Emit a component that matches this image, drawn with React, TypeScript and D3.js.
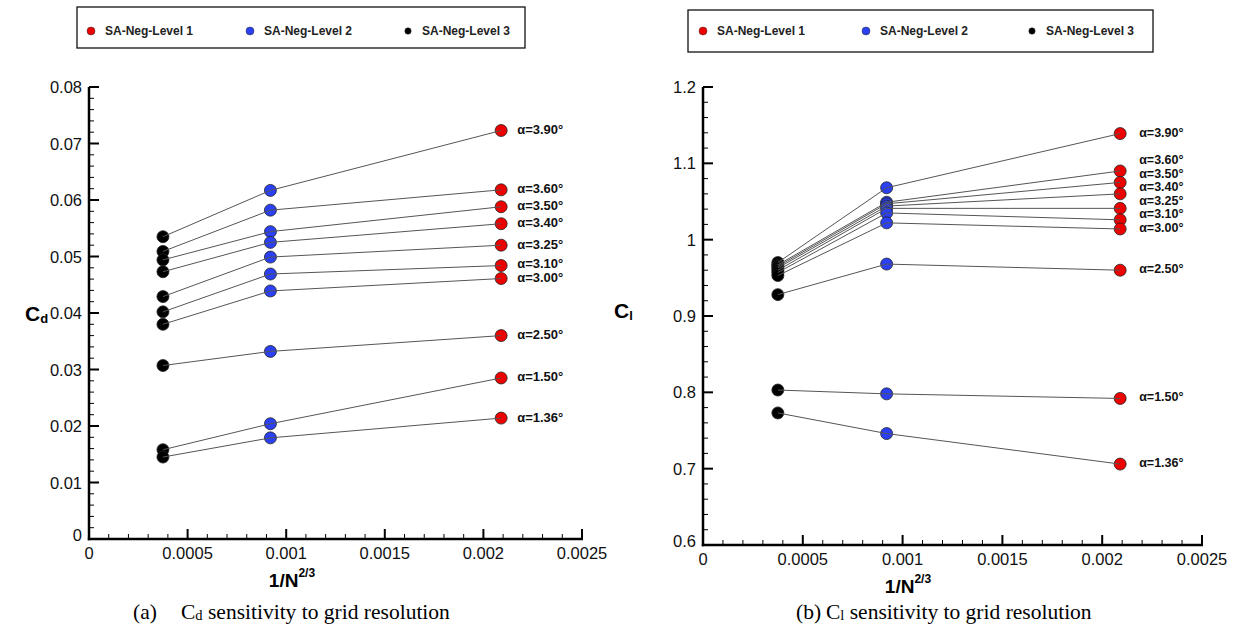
import React from 'react';
import * as d3 from 'd3';

// angle of attack for every curve, top to bottom
const alphaLabels = ['α=3.90°', 'α=3.60°', 'α=3.50°', 'α=3.40°', 'α=3.25°', 'α=3.10°', 'α=3.00°', 'α=2.50°', 'α=1.50°', 'α=1.36°'];

// 1/N^(2/3) of the three grids
const level1X = 0.00209;
const level2X = 0.00092;
const level3X = 0.000375;

const cdLevel1 = [0.0723, 0.0618, 0.0588, 0.0558, 0.052, 0.0484, 0.0461, 0.036, 0.0285, 0.0214];
const cdLevel2 = [0.0617, 0.0582, 0.0544, 0.0525, 0.0499, 0.0469, 0.0439, 0.0332, 0.0204, 0.0179];
const cdLevel3 = [0.0535, 0.0509, 0.0494, 0.0473, 0.0429, 0.0402, 0.038, 0.0307, 0.0158, 0.0145];

const clLevel1 = [1.139, 1.09, 1.075, 1.06, 1.041, 1.026, 1.014, 0.96, 0.792, 0.706];
const clLevel2 = [1.068, 1.049, 1.047, 1.044, 1.041, 1.035, 1.022, 0.968, 0.798, 0.746];
const clLevel3 = [0.97, 0.967, 0.965, 0.963, 0.96, 0.957, 0.953, 0.928, 0.803, 0.773];

const legendNames = ['SA-Neg-Level 1', 'SA-Neg-Level 2', 'SA-Neg-Level 3'];
const levelColors = ['#ec0000', '#2a40f2', '#000000'];

const xTickValues = [0, 0.0005, 0.001, 0.0015, 0.002, 0.0025];
const xTickLabels = ['0', '0.0005', '0.001', '0.0015', '0.002', '0.0025'];
const cdTickValues = [0, 0.01, 0.02, 0.03, 0.04, 0.05, 0.06, 0.07, 0.08];
const cdTickLabels = ['0', '0.01', '0.02', '0.03', '0.04', '0.05', '0.06', '0.07', '0.08'];
const clTickValues = [0.6, 0.7, 0.8, 0.9, 1.0, 1.1, 1.2];
const clTickLabels = ['0.6', '0.7', '0.8', '0.9', '1', '1.1', '1.2'];

const sans = '"Liberation Sans", Arial, Helvetica, sans-serif';
const serif = '"Liberation Serif", "Times New Roman", serif';

type PanelProps = {
  x0: number;
  x1: number;
  top: number;
  bottom: number;
  yDomain: [number, number];
  yTicks: number[];
  yTickLabels: string[];
  minorCount: number;
  levels: number[][];
  ySub: string;
  yTitleX: number;
  yTitleY: number;
  titleX: number;
  titleY: number;
  captionX: number;
  captionGap: number;
  captionY: number;
  captionHead: string;
  legend: { x: number; y: number; w: number; h: number; dots: number[]; textY: number };
  labelDx: number;
  labelGap: number;
  labelSize: number;
};

const Panel = (p: PanelProps) => {
  const x = d3.scaleLinear().domain([0, 0.0025]).range([p.x0, p.x1]);
  const y = d3.scaleLinear().domain(p.yDomain).range([p.bottom, p.top]);

  const xMinor = x.ticks(25).filter((t) => !xTickValues.some((m) => Math.abs(m - t) < 1e-9));
  const yMinor = y.ticks(p.minorCount).filter((t) => !p.yTicks.some((m) => Math.abs(m - t) < 1e-9));

  const levelXs = [level1X, level2X, level3X];

  // keep the labels at the right end from running into each other
  const labelY = p.levels[0].map((v) => y(v) - 1);
  for (let i = labelY.length - 2; i >= 0; i--) {
    if (labelY[i] > labelY[i + 1] - p.labelGap) labelY[i] = labelY[i + 1] - p.labelGap;
  }

  const line = d3
    .line<[number, number]>()
    .x((d) => x(d[0]))
    .y((d) => y(d[1]));

  return (
    <g>
      {/* legend */}
      <rect x={p.legend.x} y={p.legend.y} width={p.legend.w} height={p.legend.h} fill="white" stroke="#111" strokeWidth={1.3} />
      {legendNames.map((name, i) => (
        <g key={name}>
          <circle cx={p.legend.dots[i]} cy={p.legend.textY} r={i === 2 ? 3.2 : 4} fill={levelColors[i]} stroke="#333" strokeWidth={0.5} />
          <text x={p.legend.dots[i] + 14} y={p.legend.textY} dominantBaseline="central" fontFamily={sans} fontWeight="bold" fontSize={12} fill="#222">
            {name}
          </text>
        </g>
      ))}

      {/* minor ticks */}
      {xMinor.map((t) => (
        <line key={'xm' + t} x1={x(t)} x2={x(t)} y1={p.bottom} y2={p.bottom - 5} stroke="#000" strokeWidth={1} />
      ))}
      {yMinor.map((t) => (
        <line key={'ym' + t} x1={p.x0} x2={p.x0 + 5} y1={y(t)} y2={y(t)} stroke="#000" strokeWidth={1} />
      ))}
      {/* major ticks */}
      {xTickValues.map((t, i) => (
        <g key={'x' + t}>
          <line x1={x(t)} x2={x(t)} y1={p.bottom} y2={p.bottom - 10} stroke="#000" strokeWidth={2} />
          <text x={x(t)} y={p.bottom + 14} textAnchor="middle" dominantBaseline="central" fontFamily={sans} fontSize={16.5} fill="#111">
            {xTickLabels[i]}
          </text>
        </g>
      ))}
      {p.yTicks.map((t, i) => (
        <g key={'y' + t}>
          <line x1={p.x0} x2={p.x0 + 10} y1={y(t)} y2={y(t)} stroke="#000" strokeWidth={2} />
          <text x={p.x0 - 7} y={y(t) - (i === 0 ? 4 : 0)} textAnchor="end" dominantBaseline="central" fontFamily={sans} fontSize={16.5} fill="#111">
            {p.yTickLabels[i]}
          </text>
        </g>
      ))}
      {/* axis lines */}
      <line x1={p.x0} x2={p.x0} y1={p.top} y2={p.bottom + 1.2} stroke="#000" strokeWidth={2.5} />
      <line x1={p.x0 - 1.2} x2={p.x1 + 1} y1={p.bottom} y2={p.bottom} stroke="#000" strokeWidth={2.5} />

      {/* points */}
      {p.levels.map((vals, li) =>
        vals.map((v, i) => (
          <circle key={li + '-' + i} cx={x(levelXs[li])} cy={y(v)} r={6} fill={levelColors[li]} stroke="#222" strokeWidth={0.8} />
        ))
      )}
      {/* connecting lines */}
      {alphaLabels.map((a, i) => (
        <path
          key={'l' + a}
          d={line([
            [level3X, p.levels[2][i]],
            [level2X, p.levels[1][i]],
            [level1X, p.levels[0][i]],
          ]) || ''}
          fill="none"
          stroke="#555"
          strokeWidth={1}
        />
      ))}
      {alphaLabels.map((a, i) => (
        <text key={'t' + a} x={x(level1X) + p.labelDx} y={labelY[i]} dominantBaseline="central" fontFamily={sans} fontWeight="bold" fontSize={p.labelSize} fill="#111">
          {a}
        </text>
      ))}

      {/* axis titles */}
      <text x={p.yTitleX} y={p.yTitleY} dominantBaseline="central" fontFamily={sans} fontWeight="bold" fontSize={21} fill="#000">
        C
        <tspan fontSize={13} dy={5}>
          {p.ySub}
        </tspan>
      </text>
      <text x={p.titleX} y={p.titleY} textAnchor="middle" dominantBaseline="central" fontFamily={sans} fontWeight="bold" fontSize={19} fill="#000">
        1/N
        <tspan fontSize={12} dy={-7}>
          2/3
        </tspan>
      </text>

      {/* caption */}
      <text x={p.captionX} y={p.captionY} dominantBaseline="central" fontFamily={serif} fontSize={21.5} fill="#000">
        {p.captionHead}
      </text>
      <text x={p.captionX + p.captionGap} y={p.captionY} dominantBaseline="central" fontFamily={serif} fontSize={21.5} fill="#000">
        C
        <tspan fontSize={14.5} dy={3}>
          {p.ySub}
        </tspan>
        <tspan dy={-3}> sensitivity to grid resolution</tspan>
      </text>
    </g>
  );
};

const App = () => {
  return (
    <svg width={1233} height={632} style={{ position: 'absolute', left: 0, top: 0, background: 'white' }}>
      <rect width={1233} height={632} fill="white" />
      <Panel
        x0={89}
        x1={582}
        top={87}
        bottom={539}
        yDomain={[0, 0.08]}
        yTicks={cdTickValues}
        yTickLabels={cdTickLabels}
        minorCount={40}
        levels={[cdLevel1, cdLevel2, cdLevel3]}
        ySub="d"
        yTitleX={25}
        yTitleY={313}
        titleX={292}
        titleY={580}
        captionX={133}
        captionGap={48}
        captionY={612}
        captionHead="(a)"
        legend={{ x: 77, y: 7, w: 448, h: 41, dots: [91, 250, 408], textY: 31 }}
        labelDx={16}
        labelGap={14.5}
        labelSize={13}
      />
      <Panel
        x0={703}
        x1={1202}
        top={87}
        bottom={545}
        yDomain={[0.6, 1.2]}
        yTicks={clTickValues}
        yTickLabels={clTickLabels}
        minorCount={30}
        levels={[clLevel1, clLevel2, clLevel3]}
        ySub="l"
        yTitleX={614}
        yTitleY={310}
        titleX={908}
        titleY={586}
        captionX={796}
        captionGap={30}
        captionY={612}
        captionHead="(b)"
        legend={{ x: 688, y: 10, w: 465, h: 42, dots: [703, 866, 1032], textY: 31 }}
        labelDx={19}
        labelGap={13.5}
        labelSize={12.5}
      />
    </svg>
  );
};

export default App;
